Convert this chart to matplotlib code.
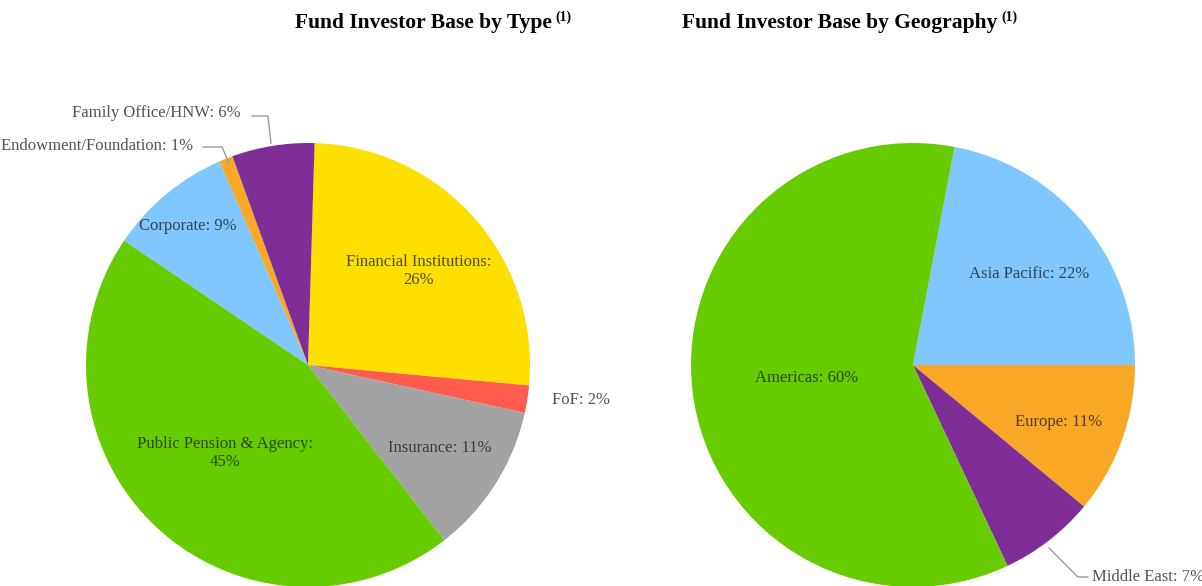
import matplotlib
matplotlib.use("Agg")
import matplotlib.pyplot as plt

# ---- data ----
type_labels = ["Financial Institutions:\n26%", "FoF: 2%", "Insurance: 11%",
               "Public Pension & Agency:\n45%", "Corporate: 9%",
               "Endowment/Foundation: 1%", "Family Office/HNW: 6%"]
type_values = [26, 2, 11, 45, 9, 1, 6]
type_colors = ["#FDDF00", "#FF5C4D", "#A3A3A3", "#66CC00", "#80C6FF", "#F9A825", "#7F2E98"]

geo_labels = ["Asia Pacific: 22%", "Europe: 11%", "Middle East: 7%", "Americas: 60%"]
geo_values = [22, 11, 7, 60]
geo_colors = ["#80C6FF", "#F9A825", "#7F2E98", "#66CC00"]

title_left = "Fund Investor Base by Type"
title_right = "Fund Investor Base by Geography"
footnote_mark = "(1)"

W, H = 1202, 586
fig = plt.figure(figsize=(W / 100, H / 100), dpi=100)
SERIF = ["Liberation Serif", "DejaVu Serif"]
TXT = dict(family=SERIF, fontsize=12, color="#1a1a1a", alpha=0.75)
LINE = dict(color="#9a9a9a", lw=1.0)
R = 222


def pie_axes(cx, cy):
    ax = fig.add_axes([(cx - R) / W, (H - cy - R) / H, 2 * R / W, 2 * R / H])
    return ax


def finish(ax):
    ax.set_xlim(-1, 1)
    ax.set_ylim(-1, 1)
    ax.set_aspect("auto")
    ax.axis("off")


def px(v):
    return v / R


# ---- left pie ----
axL = pie_axes(308, 365)
axL.pie(type_values, colors=type_colors, startangle=88.3, counterclock=False,
        radius=1, center=(0, 0), wedgeprops=dict(linewidth=0), frame=False)
finish(axL)

left_pos = [(419, 271, "center"), (552, 400, "left"), (440, 448, "center"),
            (225, 453, "center"), (188, 226, "center"),
            (193, 146, "right"), (241, 113, "right")]
for lab, (x, y, ha) in zip(type_labels, left_pos):
    axL.text(px(x - 308), px(365 - y), lab, ha=ha, va="center", multialignment="center",
             linespacing=1.2, clip_on=False, **TXT)
axL.plot([px(203 - 308), px(222 - 308), px(229 - 308)],
         [px(365 - 147), px(365 - 147), px(365 - 163)], clip_on=False, **LINE)
axL.plot([px(252 - 308), px(268 - 308), px(271 - 308)],
         [px(365 - 116), px(365 - 116), px(365 - 143)], clip_on=False, **LINE)

# ---- right pie ----
axR = pie_axes(913, 365)
axR.pie(geo_values, colors=geo_colors, startangle=79.2, counterclock=False,
        radius=1, center=(0, 0), wedgeprops=dict(linewidth=0), frame=False)
finish(axR)

right_pos = [(1029, 274, "center"), (1059, 422, "center"),
             (1092, 577, "left"), (807, 378, "center")]
for lab, (x, y, ha) in zip(geo_labels, right_pos):
    axR.text(px(x - 913), px(365 - y), lab, ha=ha, va="center", clip_on=False, **TXT)
axR.plot([px(1049 - 913), px(1078 - 913), px(1088 - 913)],
         [px(365 - 548), px(365 - 577), px(365 - 577)], clip_on=False, **LINE)

# ---- titles ----
fig.canvas.draw()
r = fig.canvas.get_renderer()
for x0, t in [(295, title_left), (682, title_right)]:
    tt = fig.text(x0 / W, 1 - 23 / H, t, ha="left", va="center", family=SERIF,
                  fontsize=15.5, fontweight="bold", color="black")
    bb = tt.get_window_extent(renderer=r)
    fig.text((bb.x1 + 4) / W, 1 - 17 / H, footnote_mark, ha="left", va="center",
             family=SERIF, fontsize=10, fontweight="bold", color="black")

fig.savefig("out.png", dpi=100, facecolor="white")
